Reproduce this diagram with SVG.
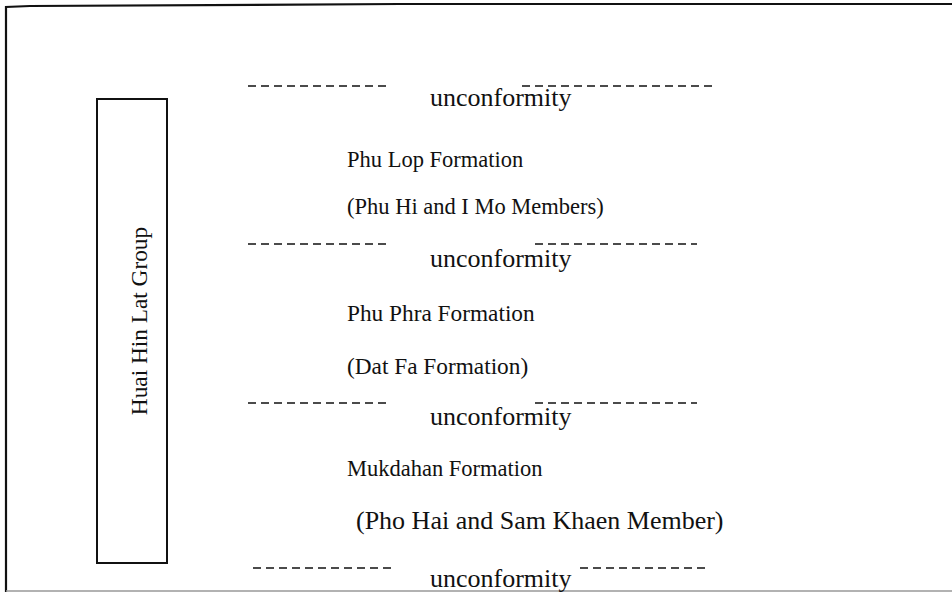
<svg xmlns="http://www.w3.org/2000/svg" width="952" height="592" viewBox="0 0 952 592">
<style>
.t{font-family:"Liberation Serif","Times New Roman",serif;font-size:22.5px;fill:#111}
.m{font-size:23.3px}
.u{font-size:26px}
.d{stroke:#111;stroke-width:1.3;stroke-dasharray:8 5;fill:none}
.f{stroke:#111;fill:none}
</style>
<rect width="952" height="592" fill="#fff"/>
<g id="frame">
<path class="f" d="M6,592 V7 L30,6 L400,4 L952,4" stroke-width="2.2"/>
<path d="M6,591 H952" stroke="#999" stroke-width="1.5" fill="none"/>
</g>
<g id="group-box">
<rect class="f" x="97" y="99" width="70" height="464" stroke-width="2"/>
<text class="t m" transform="translate(147,321) rotate(-90)" text-anchor="middle">Huai Hin Lat Group</text>
</g>
<g id="connectors">
<path class="d" d="M248,86 H387 M522,86 H717"/>
<path class="d" d="M248,244 H387 M535,244 H697"/>
<path class="d" d="M248,403 H387 M535,403 H697"/>
<path class="d" d="M253,568 H392 M580,568 H707"/>
</g>
<g id="u1"><text class="t u" x="430" y="106">unconformity</text></g>
<g id="phu-lop"><text class="t" x="347" y="167">Phu Lop Formation</text>
<text class="t" x="347" y="214">(Phu Hi and I Mo Members)</text></g>
<g id="u2"><text class="t u" x="430" y="267">unconformity</text></g>
<g id="phu-phra"><text class="t m" x="347" y="321">Phu Phra Formation</text>
<text class="t m" x="347" y="374">(Dat Fa Formation)</text></g>
<g id="u3"><text class="t u" x="430" y="425">unconformity</text></g>
<g id="mukdahan"><text class="t" x="347" y="476">Mukdahan Formation</text>
<text class="t u" x="356" y="529">(Pho Hai and Sam Khaen Member)</text></g>
<g id="u4"><text class="t u" x="430" y="587">unconformity</text></g>
</svg>
